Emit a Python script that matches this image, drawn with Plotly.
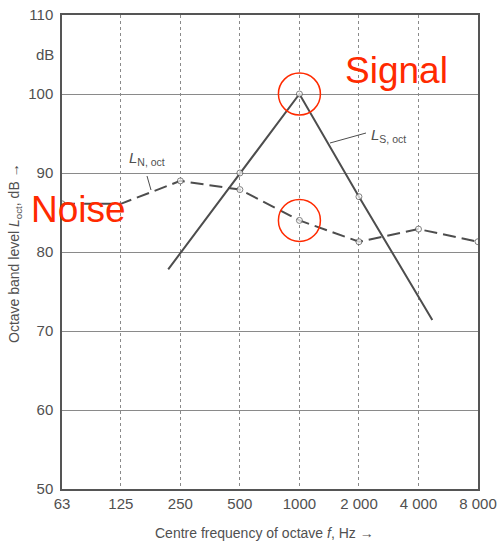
import math
import plotly.graph_objects as go

# Data
freq_ticks = [63, 125, 250, 500, 1000, 2000, 4000, 8000]
freq_labels = ["63", "125", "250", "500", "1000", "2 000", "4 000", "8 000"]
level_ticks = [50, 60, 70, 80, 90, 100, 110]

noise_freq = [63, 125, 250, 500, 1000, 2000, 4000, 8000]
noise_level = [86.1, 86.1, 89.0, 87.9, 84.0, 81.3, 82.9, 81.3]
noise_marker = [6, 0, 6, 6, 6, 6, 6, 6]

signal_freq = [217, 500, 1000, 2000, 4700]
signal_level = [77.8, 90.0, 100.0, 87.0, 71.4]
signal_marker = [0, 6, 6, 6, 0]

highlight_freq = [1000, 1000]
highlight_level = [100.0, 84.0]

L, R, T, B = 62, 20, 15, 53
W, H = 498, 542
PW, PH = W - L - R, H - T - B

def px(x):
    return (x - L) / PW

def py(y):
    return (H - B - y) / PH

GRAY = "#4d4d4d"
TXT = "#505050"
RED = "#ff2a00"
FONT = "Liberation Sans, Arial, sans-serif"

fig = go.Figure()
fig.add_trace(go.Scatter(
    x=noise_freq, y=noise_level, mode="lines+markers",
    line=dict(color=GRAY, width=2, dash="13px,6px"),
    marker=dict(symbol="circle", size=noise_marker, color="white",
                line=dict(color=GRAY, width=1)),
    showlegend=False, hoverinfo="skip"))
fig.add_trace(go.Scatter(
    x=signal_freq, y=signal_level, mode="lines+markers",
    line=dict(color=GRAY, width=2),
    marker=dict(symbol="circle", size=signal_marker, color="white",
                line=dict(color=GRAY, width=1)),
    showlegend=False, hoverinfo="skip"))
fig.add_trace(go.Scatter(
    x=highlight_freq, y=highlight_level, mode="markers",
    marker=dict(symbol="circle-open", size=42, color=RED,
                line=dict(color=RED, width=1.5)),
    showlegend=False, hoverinfo="skip"))

annotations = [
    dict(x=px(56), y=105, xref="paper", yref="y", text="dB", showarrow=False,
         xanchor="right", yanchor="middle", font=dict(size=15, color=TXT, family=FONT)),
    dict(x=px(264), y=py(533), xref="paper", yref="paper",
         text="Centre frequency of octave <i>f</i>, Hz \u2192", showarrow=False,
         xanchor="center", yanchor="middle", font=dict(size=14, color=TXT, family=FONT)),
    dict(x=px(15), y=py(253), xref="paper", yref="paper", textangle=-90,
         text="Octave band level <i>L</i><sub>oct</sub>, dB \u2192", showarrow=False,
         xanchor="center", yanchor="middle", font=dict(size=14, color=TXT, family=FONT)),
    dict(x=px(147), y=py(158), xref="paper", yref="paper",
         text="<i>L</i><sub>N, oct</sub>", showarrow=False,
         xanchor="center", yanchor="middle", font=dict(size=15, color=TXT, family=FONT)),
    dict(x=px(388), y=py(135), xref="paper", yref="paper",
         text="<i>L</i><sub>S, oct</sub>", showarrow=False,
         xanchor="center", yanchor="middle", font=dict(size=15, color=TXT, family=FONT)),
    dict(x=px(396), y=py(70), xref="paper", yref="paper", text="Signal",
         showarrow=False, xanchor="center", yanchor="middle",
         font=dict(size=37, color=RED, family=FONT)),
    dict(x=px(78), y=py(209), xref="paper", yref="paper", text="Noise",
         showarrow=False, xanchor="center", yanchor="middle",
         font=dict(size=37, color=RED, family=FONT)),
]

shapes = [
    dict(type="line", xref="paper", yref="paper", x0=px(147), y0=py(176),
         x1=px(151), y1=py(190), line=dict(color=GRAY, width=1)),
    dict(type="line", xref="paper", yref="paper", x0=px(330), y0=py(143),
         x1=px(366), y1=py(133), line=dict(color=GRAY, width=1)),
]

fig.update_layout(
    width=W, height=H, margin=dict(l=L, r=R, t=T, b=B, autoexpand=False),
    paper_bgcolor="white", plot_bgcolor="white",
    annotations=annotations, shapes=shapes,
    xaxis=dict(type="log", range=[math.log10(63), math.log10(8000)],
               tickvals=freq_ticks, ticktext=freq_labels, showgrid=True,
               gridcolor="#8a8a8a", gridwidth=1, griddash="dot",
               showline=True, linecolor="#555", linewidth=1.5, mirror=True,
               ticks="", tickfont=dict(size=15, color=TXT, family=FONT),
               zeroline=False, fixedrange=True, automargin=False),
    yaxis=dict(range=[50, 110], tickvals=level_ticks, showgrid=True,
               gridcolor="#8a8a8a", gridwidth=1,
               showline=True, linecolor="#555", linewidth=1.5, mirror=True,
               ticks="", ticklabelstandoff=4,
               tickfont=dict(size=15, color=TXT, family=FONT),
               zeroline=False, fixedrange=True, automargin=False),
)

fig.write_html(
    "out.html",
    config={"displayModeBar": False},
    post_script="document.body.style.margin='0';document.body.style.overflow='hidden';",
)
